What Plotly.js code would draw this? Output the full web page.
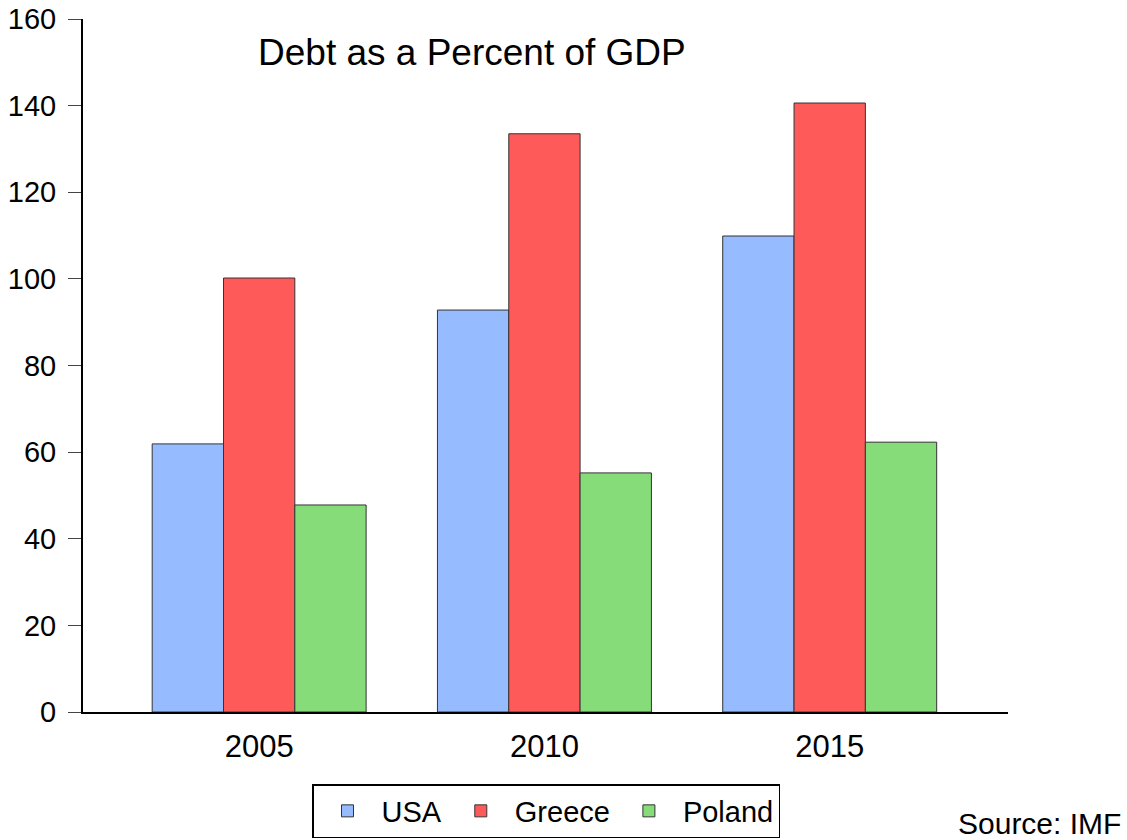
<!DOCTYPE html>
<html>
<head>
<meta charset="utf-8">
<script src="https://cdn.plot.ly/plotly-3.0.1.min.js"></script>
<style>html,body{margin:0;padding:0;background:#fff;}#chart{width:1127px;height:840px;}</style>
</head>
<body>
<div id="chart"></div>
<script>
const years = ["2005", "2010", "2015"];
const usa = [61.9, 92.8, 109.9];
const greece = [100.2, 133.5, 140.6];
const poland = [47.8, 55.2, 62.3];
const seriesNames = ["USA", "Greece", "Poland"];
const seriesColors = ["#97BBFF", "#FF5A5A", "#86DC78"];
const yTicks = [0, 20, 40, 60, 80, 100, 120, 140, 160];

const FONT = "Liberation Sans, Arial, sans-serif";
const seriesValues = [usa, greece, poland];
const traces = seriesValues.map((vals, i) => ({
  type: "bar",
  name: seriesNames[i],
  x: years,
  y: vals,
  marker: {color: seriesColors[i], line: {color: "#333333", width: 1}},
  hoverinfo: "x+y+name"
}));

const layout = {
  width: 1127,
  height: 840,
  paper_bgcolor: "#ffffff",
  plot_bgcolor: "#ffffff",
  margin: {l: 83, r: 119, t: 19, b: 128, pad: 0, autoexpand: false},
  font: {family: FONT, color: "#000000", size: 30},
  barmode: "group",
  bargap: 0.25,
  bargroupgap: 0,
  title: {
    text: "Debt as a Percent of GDP",
    font: {family: FONT, size: 37, color: "#000000"},
    xref: "container", yref: "container",
    x: 258 / 1127, xanchor: "left",
    y: 1 - 52 / 840, yanchor: "middle"
  },
  xaxis: {
    type: "category",
    range: [-0.6175, 2.625],
    showline: true, linecolor: "#000000", linewidth: 2,
    ticks: "", showgrid: false, zeroline: false,
    tickfont: {family: FONT, size: 31, color: "#000000"},
    ticklabelstandoff: 6,
    automargin: false,
    fixedrange: true
  },
  yaxis: {
    range: [0, 160],
    tickvals: yTicks,
    ticktext: yTicks.map(String),
    showline: true, linecolor: "#000000", linewidth: 2,
    ticks: "outside", ticklen: 13, tickwidth: 1, tickcolor: "#444444",
    showgrid: false, zeroline: false,
    tickfont: {family: FONT, size: 29, color: "#000000"},
    ticklabelstandoff: 6,
    automargin: false,
    fixedrange: true
  },
  showlegend: true,
  legend: {
    orientation: "h",
    x: 546 / 1127, xanchor: "center",
    y: 1 - 784 / 840, yanchor: "top",
    xref: "container", yref: "container",
    bordercolor: "#000000", borderwidth: 1.5,
    bgcolor: "#ffffff",
    font: {family: FONT, size: 29, color: "#000000"},
    itemwidth: 58,
    traceorder: "normal"
  },
  annotations: [{
    text: "Source: IMF",
    xref: "paper", yref: "paper",
    x: (1123 - 83) / 925, xanchor: "right",
    y: (712 - 823) / 693, yanchor: "middle",
    showarrow: false,
    font: {family: FONT, size: 30, color: "#000000"}
  }]
};

Plotly.newPlot("chart", traces, layout, {displayModeBar: false, staticPlot: true});
</script>
</body>
</html>
